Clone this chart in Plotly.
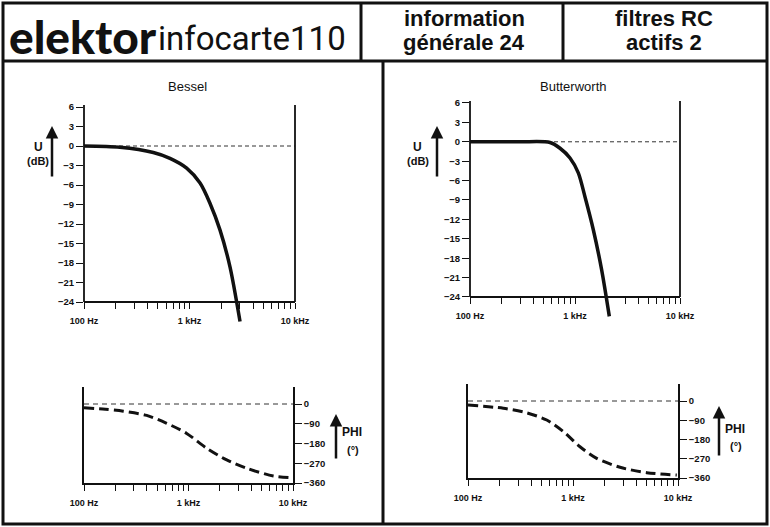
import plotly.graph_objects as go

W, H = 770, 527

# ---------------- data ----------------
bessel_f = [100, 219, 454, 653, 940, 1259, 1563, 1944, 2420, 3013]
bessel_db = [0, -0.2, -1.0, -1.9, -3.4, -5.7, -8.8, -12.9, -18.6, -27.0]

butter_f = [100, 300, 578, 720, 896, 1075, 1244, 1494, 1794, 2123]
butter_db = [0, 0, -0.1, -1.0, -2.5, -4.8, -8.5, -13.6, -19.8, -27.0]

bessel_phase_f = [100, 160, 238, 398, 618, 961, 1493, 2322, 3608, 6487, 9840]
bessel_phase = [-17, -24, -33, -52, -88, -134, -202, -255, -293, -328, -336]

butter_phase_f = [100, 217, 362, 562, 809, 1166, 1682, 2805, 5035, 9735]
butter_phase = [-19, -34, -55, -89, -143, -214, -268, -310, -335, -346]

freq_ticks = [100, 200, 300, 400, 500, 600, 700, 800, 900,
              1000, 2000, 3000, 4000, 5000, 6000, 7000, 8000, 9000, 10000]
freq_labels = ["100 Hz"] + [""] * 8 + ["1 kHz"] + [""] * 8 + ["10 kHz"]

db_ticks = [6, 3, 0, -3, -6, -9, -12, -15, -18, -21, -24]
db_labels = ["6", "3", "0", "\u22123", "\u22126", "\u22129", "\u221212",
             "\u221215", "\u221218", "\u221221", "\u221224"]
phi_ticks = [0, -90, -180, -270, -360]
phi_labels = ["0", "\u221290", "\u2212180", "\u2212270", "\u2212360"]

titles = ["Bessel", "Butterworth"]


def px(x):
    return x / W


def py(y):
    return (H - y) / H


BLACK = "#111111"
XFONT = dict(family="Liberation Sans", size=9, color=BLACK, weight="bold")
YFONT = dict(family="Liberation Sans", size=9.5, color=BLACK, weight="bold")

fig = go.Figure()
shapes = []
annotations = []


def label(text, x, y, size, family="Liberation Sans", weight="normal", xanchor="center"):
    annotations.append(dict(text=text, xref="paper", yref="paper", x=px(x), y=py(y),
                            xanchor=xanchor, yanchor="middle", showarrow=False,
                            font=dict(family=family, size=size, color=BLACK, weight=weight)))


def arrow(x, y_tip, length):
    annotations.append(dict(text="", xref="paper", yref="paper", x=px(x), y=py(y_tip),
                            xanchor="center", yanchor="middle",
                            showarrow=True, ax=0, ay=length, arrowhead=2, arrowsize=1,
                            arrowwidth=2.5, arrowcolor=BLACK, standoff=0))


# ---------- magnitude panels ----------
mag_geo = [  # x_left, x_right, y_at_6, y_at_-24
    (84, 295, 107, 302),
    (470, 680, 103, 297),
]
mag_data = [(bessel_f, bessel_db), (butter_f, butter_db)]
lo, hi = -28.5, 6.5
for i, ((xl, xr, y6, ym24), (f, db)) in enumerate(zip(mag_geo, mag_data)):
    k = (ym24 - y6) / 30.0
    bot_px = ym24 + (-24 - lo) * k
    top_px = y6 - (hi - 6) * k
    xa = "xaxis" if i == 0 else "xaxis2"
    ya = "yaxis" if i == 0 else "yaxis2"
    xr_ = "x" if i == 0 else "x2"
    yr_ = "y" if i == 0 else "y2"
    fig.add_trace(go.Scatter(x=f, y=db, mode="lines", xaxis=xr_, yaxis=yr_,
                             line=dict(color=BLACK, width=3.5, shape="spline", smoothing=0.8),
                             showlegend=False, hoverinfo="skip"))
    fig.layout[xa] = dict(domain=[px(xl), px(xr)], type="log", range=[2, 4],
                          anchor="free", position=py(ym24), automargin=False,
                          showline=True, linecolor=BLACK, linewidth=1.5,
                          ticks="outside", ticklen=6, tickwidth=1.3, tickcolor=BLACK,
                          tickmode="array", tickvals=freq_ticks, ticktext=freq_labels,
                          tickfont=XFONT, ticklabelstandoff=4,
                          showgrid=False, zeroline=False, fixedrange=True)
    fig.layout[ya] = dict(domain=[py(bot_px), py(top_px)], range=[lo, hi],
                          anchor=xr_, showline=False, automargin=False,
                          ticks="outside", ticklen=7, tickwidth=1.3, tickcolor=BLACK,
                          tickmode="array", tickvals=db_ticks, ticktext=db_labels,
                          tickfont=YFONT, showgrid=False, zeroline=False, fixedrange=True)
    for xd in (0, 1):
        shapes.append(dict(type="line", xref=xr_ + " domain", yref=yr_, x0=xd, x1=xd,
                           y0=-24, y1=6.3, line=dict(color=BLACK, width=1.8)))
    shapes.append(dict(type="line", xref=xr_ + " domain", yref=yr_, x0=0, x1=1,
                       y0=0, y1=0, layer="below",
                       line=dict(color="#333333", width=1, dash="4px,3px")))
    label(titles[i], (xl + xr) / 2 - 2, 87, 13)

# U (dB) labels + arrows
for ux, ax_x in ((38, 52), (418, 437)):
    label("U", ux, 147, 12, weight="bold")
    label("(dB)", ux, 161, 11, weight="bold")
    arrow(ax_x, 126, 52)

# ---------- phase panels ----------
ph_geo = [  # x_left, x_right, y_at_0, y_at_-360, y_top
    (84, 293, 404, 483, 387),
    (468, 678, 401, 478, 384),
]
ph_data = [(bessel_phase_f, bessel_phase), (butter_phase_f, butter_phase)]
for i, ((xl, xr, y0, y360, ytop), (f, ph)) in enumerate(zip(ph_geo, ph_data)):
    k = (y360 - y0) / 360.0
    hi_ph = (y0 - ytop) / k
    n = 3 + i
    xr_ = "x%d" % n
    yr_ = "y%d" % n
    fig.add_trace(go.Scatter(x=f, y=ph, mode="lines", xaxis=xr_, yaxis=yr_,
                             line=dict(color=BLACK, width=3, dash="10px,5px",
                                       shape="spline", smoothing=0.8),
                             showlegend=False, hoverinfo="skip"))
    fig.layout["xaxis%d" % n] = dict(domain=[px(xl), px(xr)], type="log", range=[2, 4],
                                     anchor=yr_, automargin=False,
                                     showline=True, linecolor=BLACK, linewidth=1.5,
                                     ticks="outside", ticklen=6, tickwidth=1.3, tickcolor=BLACK,
                                     tickmode="array", tickvals=freq_ticks, ticktext=freq_labels,
                                     tickfont=XFONT, ticklabelstandoff=4,
                                     showgrid=False, zeroline=False, fixedrange=True)
    fig.layout["yaxis%d" % n] = dict(domain=[py(y360), py(ytop)], range=[-360, hi_ph],
                                     anchor=xr_, side="right", showline=True, mirror=True,
                                     automargin=False,
                                     linecolor=BLACK, linewidth=1.8,
                                     ticks="outside", ticklen=7, tickwidth=1.3, tickcolor=BLACK,
                                     tickmode="array", tickvals=phi_ticks, ticktext=phi_labels,
                                     tickfont=YFONT, showgrid=False, zeroline=False,
                                     fixedrange=True)
    shapes.append(dict(type="line", xref=xr_ + " domain", yref=yr_, x0=0, x1=1,
                       y0=0, y1=0, layer="below",
                       line=dict(color="#333333", width=1, dash="5px,4px")))

for (tx, ty1, ty2, ax_x, a_top, a_len) in ((352, 432, 450, 336, 414, 46),
                                            (735, 429, 446, 719, 406, 51)):
    label("PHI", tx, ty1, 12, weight="bold")
    label("(\u00b0)", tx + 1, ty2, 11, weight="bold")
    arrow(ax_x, a_top, a_len)

# ---------- header / frame ----------
def pline(x0, y0, x1, y1, w=3):
    return dict(type="line", xref="paper", yref="paper", x0=px(x0), y0=py(y0),
                x1=px(x1), y1=py(y1), line=dict(color=BLACK, width=w))


shapes += [
    dict(type="rect", xref="paper", yref="paper", x0=px(3), y0=py(524), x1=px(767), y1=py(3),
         line=dict(color=BLACK, width=3)),
    pline(3, 61, 767, 61),
    pline(361, 3, 361, 61),
    pline(563, 3, 563, 61),
    pline(383, 61, 383, 524),
]

label("elektor", 7, 36, 46, family="Lato", weight=900, xanchor="left")
label("infocarte110", 156, 39, 33, family="Roboto", xanchor="left")
label("information", 464, 18, 22, weight="bold")
label("générale 24", 464, 43, 22, weight="bold")
label("filtres RC", 664, 18, 22, weight="bold")
label("actifs 2", 664, 43, 22, weight="bold")

fig.update_layout(width=W, height=H, margin=dict(l=0, r=0, t=0, b=0, autoexpand=False),
                  paper_bgcolor="white", plot_bgcolor="rgba(0,0,0,0)",
                  shapes=shapes, annotations=annotations, showlegend=False)

fig.write_html("out.html", config={"displayModeBar": False})
